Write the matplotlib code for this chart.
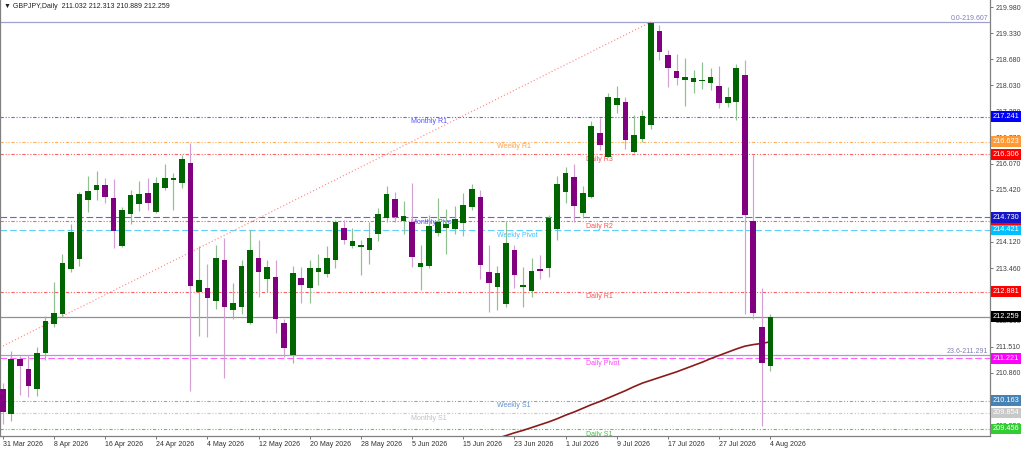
import matplotlib
matplotlib.use('Agg')
import matplotlib.pyplot as plt
import matplotlib.transforms as mtransforms

plt.rcParams['font.family'] = ['Liberation Sans', 'DejaVu Sans']

# ---------------- data ----------------
opens = [210.44, 209.83, 211.21, 210.96, 210.44, 211.36, 212.08, 212.32, 213.44, 213.69,
         215.17, 215.41, 215.55, 215.21, 214.03, 214.81, 215.07, 215.33, 214.87, 215.46,
         215.66, 215.58, 216.08, 212.87, 212.98, 212.64, 213.67, 212.42, 212.49, 212.11,
         213.73, 213.19, 213.25, 212.10, 211.31, 213.21, 212.96, 213.38, 213.31, 213.67,
         214.46, 214.02, 214.00, 213.92, 214.33, 214.72, 215.19, 214.64, 214.62, 213.49,
         213.52, 214.35, 214.47, 214.44, 214.60, 214.98, 215.25, 213.36, 212.99, 212.56,
         213.93, 213.00, 212.90, 213.44, 213.46, 214.44, 215.36, 215.75, 214.85, 215.23,
         216.85, 216.25, 217.53, 217.62, 216.37, 216.70, 217.04, 219.39, 218.78, 218.39,
         218.16, 218.12, 218.13, 218.08, 218.01, 217.59, 217.60, 218.28, 214.65, 211.99,
         211.032]
highs = [210.60, 211.41, 211.27, 211.29, 211.51, 212.27, 213.13, 213.82, 214.57, 215.37,
         215.77, 215.89, 215.71, 215.68, 215.00, 215.41, 215.65, 215.71, 215.75, 216.06,
         215.83, 216.29, 216.60, 214.02, 213.58, 214.04, 214.21, 213.10, 213.68, 214.42,
         214.18, 213.68, 213.68, 212.21, 213.52, 213.49, 213.68, 213.81, 214.02, 214.67,
         214.67, 214.46, 214.18, 214.62, 214.96, 215.51, 215.36, 215.14, 215.60, 214.04,
         214.79, 215.22, 214.93, 215.02, 215.35, 215.56, 215.41, 214.04, 213.52, 214.64,
         214.04, 213.49, 213.71, 213.79, 214.79, 215.76, 215.98, 216.06, 215.51, 217.14,
         217.20, 217.83, 218.01, 217.74, 217.29, 217.41, 219.607, 219.53, 218.92, 218.82,
         218.72, 218.41, 218.62, 218.45, 218.51, 217.98, 218.56, 218.67, 216.29, 212.96,
         212.313]
lows = [209.59, 209.65, 210.30, 210.26, 210.28, 211.17, 212.00, 212.25, 213.38, 213.52,
        214.87, 215.17, 215.08, 213.98, 214.00, 214.58, 214.89, 214.92, 214.85, 215.41,
        214.92, 215.47, 210.41, 211.77, 211.75, 212.46, 210.72, 212.21, 212.32, 212.07,
        212.74, 212.86, 211.85, 211.26, 211.11, 212.60, 212.60, 213.04, 213.24, 213.46,
        214.07, 213.98, 213.29, 213.57, 214.15, 214.62, 214.62, 214.33, 213.50, 212.92,
        213.46, 214.27, 213.83, 214.32, 214.27, 214.92, 213.19, 212.38, 212.42, 212.50,
        212.96, 212.50, 212.74, 213.19, 213.25, 214.17, 215.08, 214.62, 214.71, 215.21,
        216.41, 216.23, 217.34, 216.45, 216.35, 216.62, 216.93, 218.66, 217.98, 218.03,
        217.51, 217.83, 217.93, 217.91, 217.45, 217.49, 217.16, 212.32, 212.19, 209.53,
        210.889]
closes = [209.88, 211.20, 211.02, 210.53, 211.34, 212.16, 212.35, 213.60, 214.37, 215.31,
          215.40, 215.55, 215.23, 214.39, 214.92, 215.29, 215.31, 215.08, 215.58, 215.71,
          215.72, 216.18, 213.02, 213.17, 212.71, 213.71, 212.50, 212.59, 213.52, 213.93,
          213.38, 213.49, 212.21, 211.48, 213.35, 213.04, 213.48, 213.48, 213.73, 214.62,
          214.18, 214.15, 214.04, 214.21, 214.81, 215.31, 214.75, 214.77, 213.75, 213.60,
          214.52, 214.61, 214.57, 214.69, 215.04, 215.43, 213.54, 213.10, 213.34, 214.10,
          213.29, 213.04, 213.39, 213.40, 214.71, 215.56, 215.83, 215.01, 215.33, 217.01,
          216.54, 217.73, 217.70, 216.66, 216.79, 217.26, 219.57, 218.85, 218.47, 218.22,
          218.24, 218.20, 218.16, 218.24, 217.58, 217.74, 218.47, 214.79, 212.34, 211.09,
          212.259]

ma_first_bar = 57
ma_values = [209.15, 209.22, 209.29, 209.36, 209.42, 209.49, 209.56, 209.63, 209.71, 209.80,
             209.88, 209.97, 210.06, 210.14, 210.23, 210.32, 210.41, 210.51, 210.60, 210.67,
             210.74, 210.81, 210.88, 210.96, 211.04, 211.12, 211.21, 211.29, 211.37, 211.45,
             211.52, 211.56, 211.59, 211.63]

x_tick_pos = [0, 6, 12, 18, 24, 30, 36, 42, 48, 54, 60, 66, 72, 78, 84, 90]
x_tick_labels = ['31 Mar 2026', '8 Apr 2026', '16 Apr 2026', '24 Apr 2026', '4 May 2026',
                 '12 May 2026', '20 May 2026', '28 May 2026', '5 Jun 2026', '15 Jun 2026',
                 '23 Jun 2026', '1 Jul 2026', '9 Jul 2026', '17 Jul 2026', '27 Jul 2026',
                 '4 Aug 2026']

y_ticks = [219.980, 219.330, 218.680, 218.030, 217.380, 216.720, 216.070, 215.420, 214.770,
           214.120, 213.460, 212.810, 212.160, 211.510, 210.860, 210.210, 209.550]

level_names = ['Monthly R1', 'Weekly R1', 'Daily R3', 'Daily R2', 'Monthly Pivot',
               'Weekly Pivot', 'Daily R1', 'Daily Pivot', 'Weekly S1', 'Monthly S1', 'Daily S1']
level_values = [217.241, 216.623, 216.306, 214.640, 214.730, 214.421, 212.881, 211.221,
                210.163, 209.854, 209.456]

fib_high_bar = 76
fib_levels = ['0.0', '23.6']
fib_values = [219.607, 211.291]
trend_start_bar = -0.32
trend_start_price = 211.49

symbol = 'GBPJPY,Daily'
last_price = 212.259

# ---------------- styles ----------------
DDD = (0, (3, 1.6, 1, 1.6, 1, 1.6))
DASH = (0, (6, 2.6))
level_style = {
    'Monthly R1':    ('#6464FF', DDD,  '#5050FF', '#0000FF', 'M'),
    'Weekly R1':     ('#FFB060', DDD,  '#FFA040', '#FF9933', 'W'),
    'Daily R3':      ('#FF6060', DDD,  '#FF5050', '#FF0000', 'D'),
    'Daily R2':      ('#FF6060', DDD,  '#FF5050', '#FF0000', 'D'),
    'Monthly Pivot': ('#6060FF', DASH, '#5050FF', '#1414C8', 'M'),
    'Weekly Pivot':  ('#60D0FF', DASH, '#40C0FF', '#00BFFF', 'W'),
    'Daily R1':      ('#FF6060', DDD,  '#FF5050', '#FF0000', 'D'),
    'Daily Pivot':   ('#FF60FF', DASH, '#FF40FF', '#FF00FF', 'D'),
    'Weekly S1':     ('#80A8D8', DDD,  '#6090C8', '#4682B4', 'W'),
    'Monthly S1':    ('#C8C8C8', DDD,  '#C0C0C0', '#C8C8C8', 'M'),
    'Daily S1':      ('#50D050', DDD,  '#40C040', '#32CD32', 'D'),
}
label_x = {'M': 47.9, 'W': 57.95, 'D': 68.4}

UP = '#006400'
DOWN = '#800080'
UP_WICK = '#90C090'
DOWN_WICK = '#D4A0D4'
FS = 5
BOX_FS = 5.3

W, H = 1024, 449
fig = plt.figure(figsize=(W / 100, H / 100), dpi=100)
fig.patch.set_facecolor('white')
ax = fig.add_axes([0, 13 / H, 990 / W, 436 / H])
ax.set_facecolor('white')
ax.set_xlim(-0.32, 115.75)
ax.set_ylim(209.28, 220.155)

# horizontal levels
for name, val in zip(level_names, level_values):
    lc, ls, tc, bc, grp = level_style[name]
    ax.axhline(val, color=lc, linestyle=ls, linewidth=0.8, zorder=1)
    ax.annotate(name, xy=(label_x[grp], val), xytext=(0, -1.2), textcoords='offset points',
                ha='left', va='top', fontsize=FS, color=tc, zorder=2, annotation_clip=False,
                clip_on=True)

# fib lines
trans_ax_data = mtransforms.blended_transform_factory(ax.transAxes, ax.transData)
for lvl, val in zip(fib_levels, fib_values):
    ax.axhline(val, color='#A0A0D0', linewidth=0.9, zorder=1)
    ax.text(988 / 990, val, f'{lvl}-{val:.3f}', transform=trans_ax_data,
            ha='right', va='bottom', fontsize=FS, color='#8080B0', zorder=2)

# trend line of fibo
ax.plot([trend_start_bar, fib_high_bar], [trend_start_price, fib_values[0]],
        color='#FF8080', linestyle=(0, (1, 2)), linewidth=0.8, zorder=1)

# current price line
ax.axhline(last_price, color='#909090', linewidth=0.9, zorder=1)

# moving average
ma_x = list(range(ma_first_bar, ma_first_bar + len(ma_values)))
ax.plot(ma_x, ma_values, color='#8B1A1A', linewidth=1.2, zorder=4)

# candles
for i, (o, h, l, c) in enumerate(zip(opens, highs, lows, closes)):
    up = c >= o
    ax.vlines(i, l, h, color=UP_WICK if up else DOWN_WICK, linewidth=0.85, zorder=3)
    bottom = min(o, c)
    height = max(abs(c - o), 0.03)
    ax.bar(i, height, bottom=bottom, width=0.66, color=UP if up else DOWN,
           linewidth=0, zorder=5)

# axes styling
ax.spines['top'].set_visible(False)
for s in ['right', 'bottom', 'left']:
    ax.spines[s].set_color('#808080')
    ax.spines[s].set_linewidth(0.9)

ax.yaxis.tick_right()
ax.set_yticks(y_ticks)
ax.set_yticklabels([f'{v:.3f}' for v in y_ticks])
ax.tick_params(axis='y', length=2.5, width=0.6, color='#606060', pad=1.5,
               labelsize=FS, labelcolor='#404040')
ax.set_xticks(x_tick_pos)
ax.set_xticklabels(x_tick_labels, ha='left')
ax.tick_params(axis='x', length=2.5, width=0.6, color='#606060', pad=1,
               labelsize=FS, labelcolor='#303030')

# price boxes on the right axis
box_order = ['Monthly R1', 'Weekly R1', 'Daily R3', 'Daily R2', 'Monthly Pivot',
             'Weekly Pivot', 'Daily R1', 'Daily Pivot', 'Weekly S1', 'Monthly S1', 'Daily S1']
for k, name in enumerate(box_order):
    val = level_values[level_names.index(name)]
    bc = level_style[name][3]
    ax.text(1.0 + 2.5 / 990, val, f'{val:.3f}', transform=trans_ax_data, ha='left',
            va='center', fontsize=BOX_FS, color='white', zorder=10 + k, clip_on=False,
            bbox=dict(boxstyle='square,pad=0.25', fc=bc, ec='none'))
ax.text(1.0 + 2.5 / 990, last_price, f'{last_price:.3f}', transform=trans_ax_data, ha='left',
        va='center', fontsize=BOX_FS, color='white', zorder=30, clip_on=False,
        bbox=dict(boxstyle='square,pad=0.25', fc='black', ec='none'))

# header
hdr = f'\u25BC {symbol}  {opens[-1]:.3f} {highs[-1]:.3f} {lows[-1]:.3f} {closes[-1]:.3f}'
ax.text(4 / 990, 1 - 7 / 436, hdr, transform=ax.transAxes, ha='left', va='center',
        fontsize=FS, color='#202020', zorder=20)

fig.savefig('out.png', dpi=100, facecolor='white')
